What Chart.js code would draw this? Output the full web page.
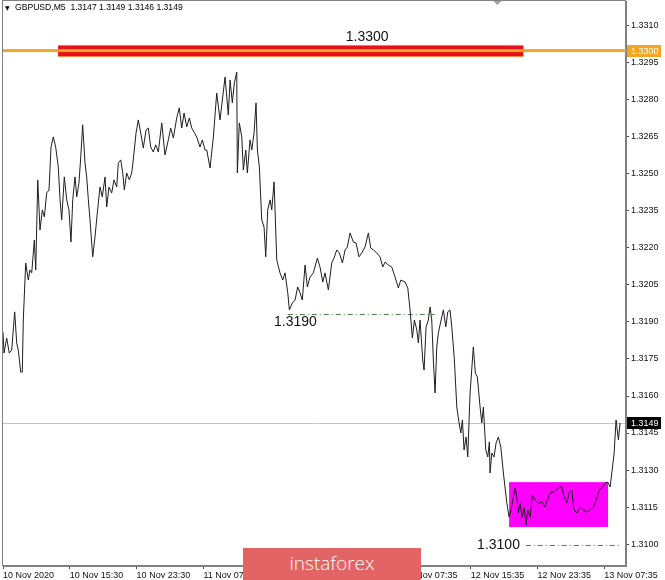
<!DOCTYPE html>
<html>
<head>
<meta charset="utf-8">
<script src="https://cdn.jsdelivr.net/npm/chart.js@4.4.1/dist/chart.umd.min.js"></script>
<style>
  html, body { margin: 0; padding: 0; background: #fff; }
  #wrap { position: relative; width: 665px; height: 580px; }
  #logo {
    position: absolute; left: 243px; top: 548px; width: 178px; height: 32px;
    background: #e36464; color: #fff; font: 300 19px "Open Sans", sans-serif;
    text-align: center; line-height: 30px;
  }
</style>
</head>
<body>
<div id="wrap">
  <canvas id="chart" width="665" height="580"></canvas>
  <div id="logo">instaforex</div>
</div>
<script>
'use strict';

// ── Data ────────────────────────────────────────────────────
const symbolTitle = 'GBPUSD,M5';
const lastBar = ['1.3147', '1.3149', '1.3146', '1.3149'];

// hours since 10 Nov 07:30
const hours = [
  0, 0.12, 0.44, 0.75, 1.04, 1.40, 1.64, 1.83, 2.12, 2.31,
  2.43, 2.72, 3.03, 3.23, 3.44, 3.75, 3.92, 4.16, 4.43, 4.71,
  4.95, 5.23, 5.51, 5.75, 6.02, 6.31, 6.62, 6.83, 7.03, 7.34,
  7.63, 7.90, 8.14, 8.35, 8.62, 8.83, 9.10, 9.31, 9.54, 9.82,
  10.02, 10.22, 10.42, 10.74, 11.02, 11.29, 11.62, 11.89, 12.22, 12.42,
  12.69, 13.02, 13.29, 13.62, 13.81, 14.10, 14.34, 14.53, 14.81, 15.13,
  15.41, 15.60, 15.93, 16.20, 16.49, 16.80, 17.13, 17.40, 17.69, 18.00,
  18.29, 18.60, 19.01, 19.40, 19.80, 20.08, 20.40, 20.80, 21.11, 21.40,
  21.68, 22.00, 22.31, 22.60, 22.87, 23.20, 23.59, 23.87, 24.19, 24.40,
  24.79, 25.19, 25.59, 25.99, 26.31, 26.59, 26.98, 27.19, 27.46, 27.70,
  27.99, 28.06, 28.30, 28.59, 28.78, 29.07, 29.26, 29.58, 29.79, 30.06,
  30.30, 30.46, 30.70, 30.98, 31.26, 31.46, 31.70, 31.98, 32.18, 32.46,
  32.78, 33.17, 33.50, 33.77, 34.10, 34.29, 34.65, 34.97, 35.29, 35.57,
  35.84, 36.17, 36.44, 36.76, 37.16, 37.64, 37.96, 38.29, 38.56, 38.96,
  39.36, 39.64, 39.96, 40.28, 40.64, 40.96, 41.23, 41.56, 41.95, 42.28,
  42.63, 42.96, 43.35, 43.75, 44.03, 44.35, 44.75, 45.15, 45.47, 45.75,
  46.14, 46.55, 46.95, 47.34, 47.63, 48.14, 48.47, 48.74, 49.02, 49.26,
  49.55, 49.74, 49.94, 50.26, 50.42, 50.66, 50.93, 51.14, 51.34, 51.53,
  51.74, 51.94, 52.13, 52.46, 52.73, 53.02, 53.26, 53.53, 53.74, 53.93,
  54.05, 54.34, 54.61, 54.82, 55.01, 55.21, 55.45, 55.65, 55.93, 56.32,
  56.56, 56.80, 57.13, 57.33, 57.52, 57.81, 58.05, 58.24, 58.32, 58.53,
  58.80, 59.04, 59.32, 59.61, 59.92, 60.33, 60.60, 60.84, 61.04, 61.32,
  61.52, 61.72, 61.92, 62.16, 62.40, 62.64, 62.84, 63.12, 63.39, 63.71,
  64.11, 64.52, 64.91, 65.19, 65.51, 65.91, 66.31, 66.62, 66.91, 67.19,
  67.51, 67.82, 68.11, 68.38, 68.71, 69.10, 69.50, 69.90, 70.30, 70.70,
  71.10, 71.41, 71.82, 72.10, 72.42, 72.70, 72.90, 73.18, 73.41, 73.69,
  73.89
];

const prices = [
  1.31859, 1.31774, 1.31835, 1.31774, 1.31786, 1.31941, 1.31815, 1.31786, 1.31697, 1.31697,
  1.31908, 1.32139, 1.32070, 1.32111, 1.32099, 1.32232, 1.32111, 1.32476, 1.32273, 1.32354,
  1.32326, 1.32423, 1.32435, 1.32609, 1.32650, 1.32609, 1.32528, 1.32395, 1.32314, 1.32488,
  1.32395, 1.32354, 1.32224, 1.32395, 1.32488, 1.32407, 1.32464, 1.32569, 1.32699, 1.32545,
  1.32488, 1.32395, 1.32314, 1.32164, 1.32245, 1.32342, 1.32447, 1.32407, 1.32488, 1.32366,
  1.32447, 1.32423, 1.32476, 1.32447, 1.32545, 1.32557, 1.32504, 1.32435, 1.32504, 1.32476,
  1.32504, 1.32557, 1.32666, 1.32719, 1.32666, 1.32605, 1.32678, 1.32686, 1.32609, 1.32589,
  1.32618, 1.32589, 1.32707, 1.32577, 1.32638, 1.32686, 1.32646, 1.32727, 1.32768, 1.32686,
  1.32747, 1.32691, 1.32727, 1.32686, 1.32670, 1.32650, 1.32609, 1.32638, 1.32597, 1.32597,
  1.32524, 1.32650, 1.32828, 1.32719, 1.32812, 1.32893, 1.32739, 1.32881, 1.32788, 1.32869,
  1.32913, 1.32504, 1.32707, 1.32650, 1.32516, 1.32597, 1.32504, 1.32638, 1.32597, 1.32666,
  1.32788, 1.32597, 1.32528, 1.32314, 1.32285, 1.32164, 1.32354, 1.32395, 1.32354, 1.32468,
  1.32151, 1.32099, 1.32070, 1.32099, 1.32018, 1.31949, 1.31977, 1.31989, 1.32042, 1.32018,
  1.31989, 1.32131, 1.32042, 1.32082, 1.32099, 1.32159, 1.32123, 1.32062, 1.32099, 1.32030,
  1.32139, 1.32159, 1.32192, 1.32180, 1.32139, 1.32192, 1.32204, 1.32261, 1.32224, 1.32220,
  1.32164, 1.32180, 1.32204, 1.32261, 1.32200, 1.32192, 1.32180, 1.32164, 1.32123, 1.32143,
  1.32131, 1.32123, 1.32082, 1.32038, 1.32070, 1.32062, 1.32038, 1.31949, 1.31835, 1.31908,
  1.31868, 1.31815, 1.31908, 1.31746, 1.31705, 1.31880, 1.31908, 1.31961, 1.31908, 1.31746,
  1.31612, 1.31799, 1.31855, 1.31908, 1.31949, 1.31880, 1.31941, 1.31949, 1.31880, 1.31799,
  1.31746, 1.31555, 1.31491, 1.31450, 1.31503, 1.31381, 1.31434, 1.31353, 1.31612, 1.31799,
  1.31693, 1.31677, 1.31555, 1.31491, 1.31555, 1.31381, 1.31353, 1.31414, 1.31288, 1.31369,
  1.31353, 1.31409, 1.31434, 1.31393, 1.31288, 1.31166, 1.31109, 1.31138, 1.31178, 1.31227,
  1.31191, 1.31126, 1.31166, 1.31109, 1.31150, 1.31077, 1.31138, 1.31109, 1.31199, 1.31178,
  1.31166, 1.31170, 1.31150, 1.31178, 1.31207, 1.31211, 1.31219, 1.31231, 1.31231, 1.31191,
  1.31166, 1.31211, 1.31219, 1.31138, 1.31126, 1.31150, 1.31138, 1.31130, 1.31138, 1.31150,
  1.31186, 1.31219, 1.31231, 1.31247, 1.31251, 1.31231, 1.31288, 1.31369, 1.31503, 1.31422,
  1.31491
];

const xTickHours  = [0, 8, 16, 24, 32, 40, 48, 56, 64, 72];
const xTickLabels = ['10 Nov 2020', '10 Nov 15:30', '10 Nov 23:30', '11 Nov 07:30', '11 Nov 15:30',
                     '11 Nov 23:30', '12 Nov 07:35', '12 Nov 15:35', '12 Nov 23:35', '13 Nov 07:35'];
const yTicks = [1.3100, 1.3115, 1.3130, 1.3145, 1.3160, 1.3175, 1.3190, 1.3205,
                1.3220, 1.3235, 1.3250, 1.3265, 1.3280, 1.3295, 1.3310];

const lastPrice   = 1.3149;
const resistance  = 1.3300;
const resBand     = { from: 6.6, to: 62.3, low: 1.32974, high: 1.33023 };
const rangeBox    = { from: 60.6, to: 72.45, low: 1.31069, high: 1.31251 };
const levelLines  = [
  { from: 34.1, to: 51.7, price: 1.31932 },
  { from: 62.6, to: 74.1, price: 1.30996 }
];
const levelLabels = [
  { text: '1.3300', at: 43.6, price: 1.33055, align: 'center' },
  { text: '1.3190', at: 32.45, price: 1.31900, align: 'left' },
  { text: '1.3100', at: 61.9, price: 1.30995, align: 'right' }
];

// ── Overlay drawing (levels, boxes, price tags) ─────────────
const overlay = {
  id: 'overlay',
  beforeDatasetsDraw(chart) {
    const { ctx, chartArea: a, scales: { x, y } } = chart;
    ctx.save();
    // current bid line
    const yb = Math.round(y.getPixelForValue(lastPrice)) + 0.5;
    ctx.strokeStyle = '#c4c4c4';
    ctx.lineWidth = 1;
    ctx.beginPath(); ctx.moveTo(a.left, yb); ctx.lineTo(a.right, yb); ctx.stroke();

    // consolidation box
    const bx1 = x.getPixelForValue(rangeBox.from), bx2 = x.getPixelForValue(rangeBox.to);
    const by1 = y.getPixelForValue(rangeBox.high), by2 = y.getPixelForValue(rangeBox.low);
    ctx.fillStyle = '#ff00ff';
    ctx.fillRect(bx1, by1, bx2 - bx1, by2 - by1);

    // dash-dot levels
    ctx.strokeStyle = '#4f7f4f';
    ctx.setLineDash([5, 3, 1, 3]);
    levelLines.forEach(l => {
      const py = Math.round(y.getPixelForValue(l.price)) + 0.5;
      ctx.beginPath();
      ctx.moveTo(x.getPixelForValue(l.from), py);
      ctx.lineTo(x.getPixelForValue(l.to), py);
      ctx.stroke();
    });
    ctx.restore();
  },
  afterDraw(chart) {
    const { ctx, chartArea: a, scales: { x, y } } = chart;
    ctx.save();

    // frame
    ctx.strokeStyle = '#808080';
    ctx.lineWidth = 1;
    ctx.strokeRect(a.left - 0.5, a.top - 0.5, a.right - a.left, a.bottom - a.top);

    // resistance line + band
    const yr = y.getPixelForValue(resistance);
    ctx.fillStyle = '#f2a623';
    ctx.fillRect(a.left, yr - 1.5, a.right - a.left, 3);
    const rx1 = x.getPixelForValue(resBand.from), rx2 = x.getPixelForValue(resBand.to);
    const ry1 = y.getPixelForValue(resBand.high), ry2 = y.getPixelForValue(resBand.low);
    ctx.fillStyle = '#f08a50';
    ctx.fillRect(rx1, ry1, rx2 - rx1, ry2 - ry1);
    ctx.fillStyle = '#e8101a';
    ctx.fillRect(rx1, ry1 + 1, rx2 - rx1, ry2 - ry1 - 2);
    ctx.fillStyle = '#f2a623';
    ctx.fillRect(rx1, yr - 1.5, rx2 - rx1, 3);

    // level captions
    ctx.fillStyle = '#111';
    ctx.font = '14px "Liberation Sans", Arial, sans-serif';
    ctx.textBaseline = 'middle';
    levelLabels.forEach(l => {
      ctx.textAlign = l.align;
      ctx.fillText(l.text, x.getPixelForValue(l.at), y.getPixelForValue(l.price));
    });

    // right-side price tags
    const tag = (price, bg, label) => {
      const py = Math.round(y.getPixelForValue(price));
      ctx.fillStyle = bg;
      ctx.fillRect(a.right + 1, py - 6, 34, 12);
      ctx.fillStyle = '#fff';
      ctx.font = '9px "Liberation Sans", Arial, sans-serif';
      ctx.textAlign = 'left';
      ctx.fillText(label, a.right + 5, py + 0.5);
    };
    tag(resistance, '#f2a623', resistance.toFixed(4));
    tag(lastPrice, '#000', lastPrice.toFixed(4));

    // header
    ctx.fillStyle = '#000';
    ctx.font = '6px "DejaVu Sans", sans-serif';
    ctx.textAlign = 'left';
    ctx.fillText('\u25BC', a.left + 2, a.top + 7);
    ctx.font = '8.6px "Liberation Sans", Arial, sans-serif';
    ctx.fillText(symbolTitle + '  ' + lastBar.join(' '), a.left + 12, a.top + 7);

    // shift marker
    ctx.fillStyle = '#a0a0a0';
    const mx = x.getPixelForValue(59.2);
    ctx.beginPath();
    ctx.moveTo(mx - 4, a.top); ctx.lineTo(mx + 4, a.top); ctx.lineTo(mx, a.top + 4);
    ctx.closePath(); ctx.fill();

    ctx.restore();
  }
};

// ── Chart ───────────────────────────────────────────────────
const axisFont = { family: '"Liberation Sans", Arial, sans-serif', size: 9 };

new Chart(document.getElementById('chart'), {
  type: 'line',
  data: {
    datasets: [{
      data: hours.map((h, i) => ({ x: h, y: prices[i] })),
      borderColor: '#1e1e1e',
      borderWidth: 1,
      pointRadius: 0,
      tension: 0,
      fill: false
    }]
  },
  options: {
    responsive: false,
    devicePixelRatio: 1,
    animation: false,
    layout: { padding: { left: 3, top: 1 } },
    plugins: { legend: { display: false }, tooltip: { enabled: false } },
    scales: {
      x: {
        type: 'linear',
        min: 0,
        max: 74.6,
        afterBuildTicks: s => { s.ticks = xTickHours.map(v => ({ value: v })); },
        afterFit: s => { s.height = 14; s.paddingLeft = 0; },
        border: { display: true, color: '#808080' },
        grid: { drawOnChartArea: false, drawTicks: true, tickLength: 3, color: '#444' },
        ticks: {
          autoSkip: false, maxRotation: 0, align: 'start', padding: 1,
          color: '#111', font: axisFont,
          callback: (v, i) => xTickLabels[i]
        }
      },
      y: {
        type: 'linear',
        position: 'right',
        min: 1.30911,
        max: 1.33201,
        afterBuildTicks: s => { s.ticks = yTicks.map(v => ({ value: v })); },
        afterFit: s => { s.width = 39; s.paddingTop = 0; s.paddingBottom = 0; },
        border: { display: true, color: '#808080' },
        grid: { drawOnChartArea: false, drawTicks: true, tickLength: 3, color: '#444' },
        ticks: {
          padding: 2, color: '#111', font: axisFont,
          callback: v => v.toFixed(4)
        }
      }
    }
  },
  plugins: [overlay]
});
</script>
</body>
</html>
